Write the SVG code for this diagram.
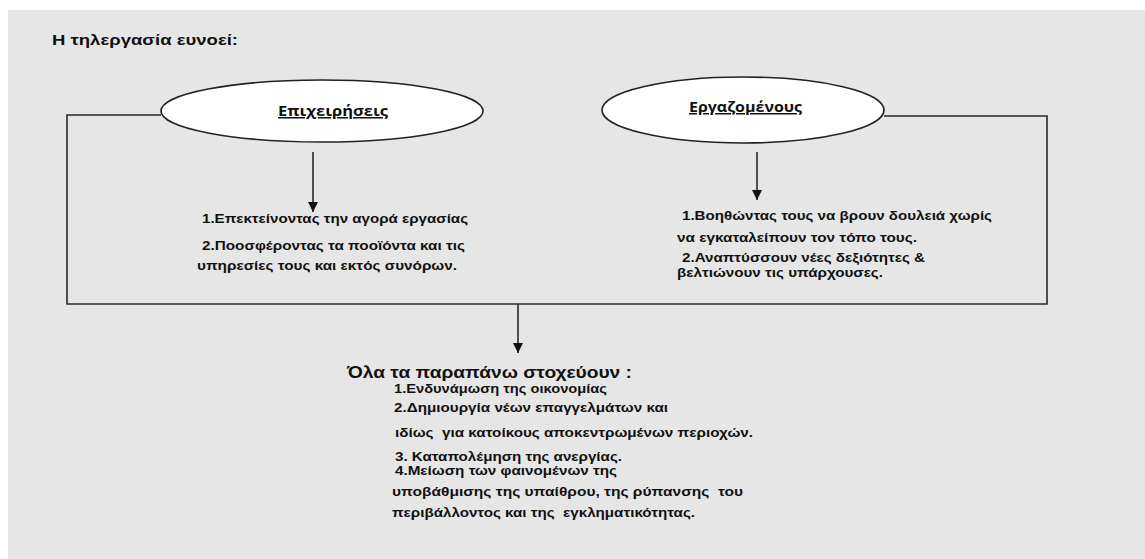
<svg xmlns="http://www.w3.org/2000/svg" width="1145" height="559" viewBox="0 0 1145 559">
<defs>
<style>
.t{font-family:"Liberation Sans",Arial,sans-serif;font-weight:bold;font-size:13.5px;fill:#111}
.h{font-family:"Liberation Sans",Arial,sans-serif;font-weight:bold;font-size:15px;fill:#111}
.big{font-family:"Liberation Sans",Arial,sans-serif;font-weight:bold;font-size:16px;fill:#111}
.el{fill:#fff;stroke:#222;stroke-width:1.6}
.lbl{font-family:"Open Sans","DejaVu Sans",sans-serif;font-weight:bold;font-size:15px;fill:#111;text-decoration:underline}
.ln{fill:none;stroke:#2a2a2a;stroke-width:1.6}
</style>
<marker id="ah" viewBox="0 0 10 10" refX="10" refY="5" markerWidth="10" markerHeight="10" markerUnits="userSpaceOnUse" orient="auto">
<path d="M0,0 L10,5 L0,10 Z" fill="#111"/>
</marker>
</defs>
<rect x="8" y="10" width="1137" height="549" fill="#e6e6e6"/>
<text class="h" x="52" y="45" textLength="186" lengthAdjust="spacingAndGlyphs">Η τηλεργασία ευνοεί:</text>
<g id="connectors">
<polyline class="ln" points="161,115 67,115 67,304 1047,304 1047,116 884,116"/>
<line class="ln" x1="313" y1="152" x2="313" y2="212" marker-end="url(#ah)"/>
<line class="ln" x1="757" y1="152" x2="757" y2="200" marker-end="url(#ah)"/>
<line class="ln" x1="518" y1="304" x2="518" y2="353" marker-end="url(#ah)"/>
</g>
<g id="epixeiriseis">
<ellipse class="el" cx="322" cy="111" rx="161" ry="31"/>
<text class="lbl" x="278" y="116" textLength="110" lengthAdjust="spacingAndGlyphs">Επιχειρήσεις</text>
</g>
<g id="ergazomenous">
<ellipse class="el" cx="743" cy="110" rx="141" ry="33"/>
<text class="lbl" x="689" y="112" textLength="113" lengthAdjust="spacingAndGlyphs">Εργαζομένους</text>
</g>
<g id="left-text">
<text class="t" x="202" y="223" textLength="266" lengthAdjust="spacingAndGlyphs">1.Επεκτείνοντας την αγορά εργασίας</text>
<text class="t" x="202" y="250" textLength="263" lengthAdjust="spacingAndGlyphs">2.Ποοσφέροντας τα ποοϊόντα και τις</text>
<text class="t" x="197" y="270" textLength="260" lengthAdjust="spacingAndGlyphs">υπηρεσίες τους και εκτός συνόρων.</text>
</g>
<g id="right-text">
<text class="t" x="682" y="220" textLength="310" lengthAdjust="spacingAndGlyphs">1.Βοηθώντας τους να βρουν δουλειά χωρίς</text>
<text class="t" x="677" y="242" textLength="240" lengthAdjust="spacingAndGlyphs">να εγκαταλείπουν τον τόπο τους.</text>
<text class="t" x="682" y="262" textLength="243" lengthAdjust="spacingAndGlyphs">2.Αναπτύσσουν νέες δεξιότητες &amp;</text>
<text class="t" x="677" y="277" textLength="206" lengthAdjust="spacingAndGlyphs">βελτιώνουν τις υπάρχουσες.</text>
</g>
<g id="goals">
<text class="big" x="347" y="378" textLength="285" lengthAdjust="spacingAndGlyphs">Όλα τα παραπάνω στοχεύουν :</text>
<text class="t" x="394" y="393" textLength="213" lengthAdjust="spacingAndGlyphs">1.Ενδυνάμωση της οικονομίας</text>
<text class="t" x="394" y="412" textLength="274" lengthAdjust="spacingAndGlyphs">2.Δημιουργία νέων επαγγελμάτων και</text>
<text class="t" x="395" y="437" textLength="358" lengthAdjust="spacingAndGlyphs" xml:space="preserve">ιδίως  για κατοίκους αποκεντρωμένων περιοχών.</text>
<text class="t" x="395" y="461" textLength="227" lengthAdjust="spacingAndGlyphs">3. Καταπολέμηση της ανεργίας.</text>
<text class="t" x="395" y="475" textLength="222" lengthAdjust="spacingAndGlyphs">4.Μείωση των φαινομένων της</text>
<text class="t" x="392" y="496" textLength="351" lengthAdjust="spacingAndGlyphs" xml:space="preserve">υποβάθμισης της υπαίθρου, της ρύπανσης  του</text>
<text class="t" x="392" y="517" textLength="303" lengthAdjust="spacingAndGlyphs" xml:space="preserve">περιβάλλοντος και της  εγκληματικότητας.</text>
</g>
</svg>
